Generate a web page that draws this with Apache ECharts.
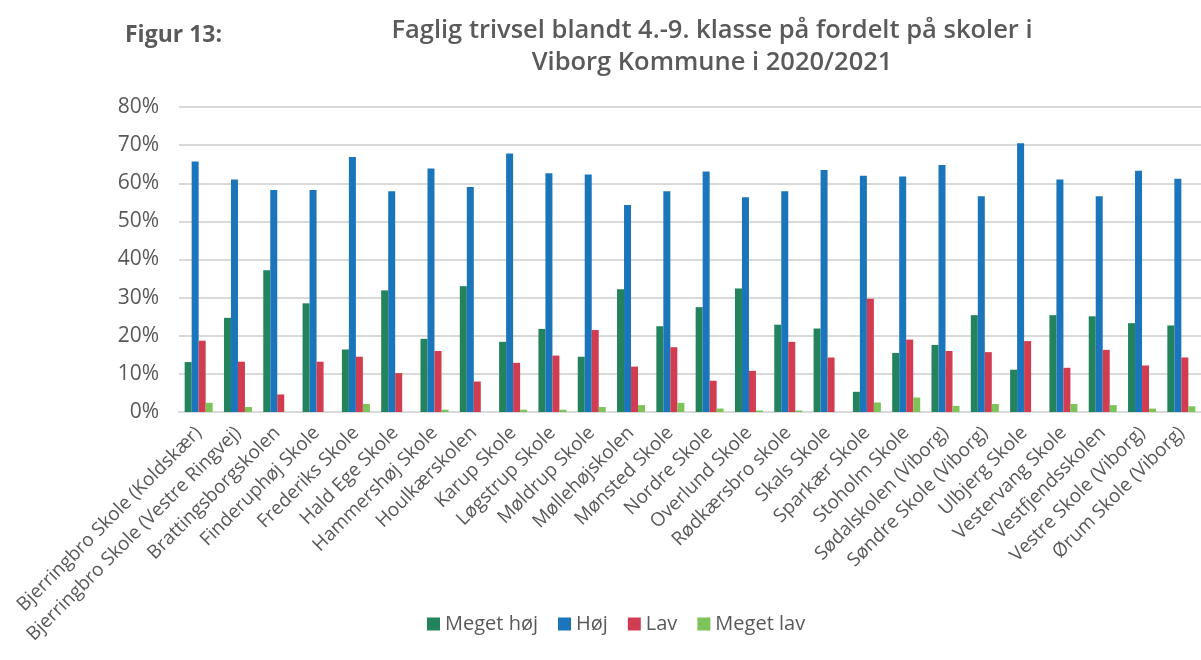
<!DOCTYPE html>
<html>
<head>
<meta charset="utf-8">
<script src="https://cdn.jsdelivr.net/npm/echarts@6/dist/echarts.min.js"></script>
<style>
  html, body { margin: 0; padding: 0; background: #fff; }
  #chart { width: 1201px; height: 660px; }
</style>
</head>
<body>
<div id="chart"></div>
<script>
// skoler
var schools = [
    'Bjerringbro Skole (Koldskær)', 'Bjerringbro Skole (Vestre Ringvej)', 'Brattingsborgskolen',
    'Finderuphøj Skole', 'Frederiks Skole', 'Hald Ege Skole', 'Hammershøj Skole', 'Houlkærskolen',
    'Karup Skole', 'Løgstrup Skole', 'Møldrup Skole', 'Møllehøjskolen', 'Mønsted Skole',
    'Nordre Skole', 'Overlund Skole', 'Rødkærsbro skole', 'Skals Skole', 'Sparkær Skole',
    'Stoholm Skole', 'Sødalskolen (Viborg)', 'Søndre Skole (Viborg)', 'Ulbjerg Skole',
    'Vestervang Skole', 'Vestfjendsskolen', 'Vestre Skole (Viborg)', 'Ørum Skole (Viborg)'
];
// procent pr. kategori
var megetHoj = [13.1, 24.7, 37.2, 28.5, 16.4, 31.9, 19.2, 33.0, 18.4, 21.8, 14.5, 32.2, 22.5,
    27.5, 32.4, 22.9, 21.9, 5.3, 15.5, 17.6, 25.4, 11.1, 25.4, 25.1, 23.3, 22.7];
var hoj = [65.7, 61.0, 58.2, 58.2, 66.9, 57.9, 63.9, 59.0, 67.8, 62.6, 62.3, 54.3, 57.9,
    63.1, 56.3, 57.9, 63.5, 62.0, 61.8, 64.8, 56.6, 70.5, 61.0, 56.6, 63.3, 61.2];
var lav = [18.7, 13.2, 4.6, 13.2, 14.5, 10.2, 16.0, 8.0, 12.9, 14.8, 21.5, 11.9, 17.0,
    8.2, 10.8, 18.4, 14.3, 29.7, 19.0, 16.0, 15.7, 18.6, 11.6, 16.3, 12.2, 14.3];
var megetLav = [2.4, 1.3, 0, 0, 2.1, 0, 0.6, 0, 0.6, 0.6, 1.3, 1.8, 2.4,
    0.9, 0.4, 0.4, 0, 2.5, 3.8, 1.6, 2.1, 0, 2.1, 1.8, 0.9, 1.5];
var seriesNames = ['Meget høj', 'Høj', 'Lav', 'Meget lav'];
var yTicks = [0, 10, 20, 30, 40, 50, 60, 70, 80];

var colors = ['#23835d', '#1a75bb', '#d23c50', '#7cc359'];
var font = "'Open Sans', sans-serif";

var myChart = echarts.init(document.getElementById('chart'));

function bar(name, data, color) {
    return {
        name: name,
        type: 'bar',
        data: data,
        barWidth: 7,
        barGap: '0%',
        itemStyle: { color: color },
        emphasis: { disabled: true }
    };
}

myChart.setOption({
    animation: false,
    backgroundColor: '#fff',
    textStyle: { fontFamily: font },
    title: [
        {
            text: 'Figur 13:',
            left: 120,
            top: 15,
            textStyle: { fontFamily: font, fontSize: 23, fontWeight: 'bold', color: '#5a5a5a', lineHeight: 30 }
        },
        {
            text: 'Faglig trivsel blandt 4.-9. klasse på fordelt på skoler i\nViborg Kommune i 2020/2021',
            left: 707,
            top: 10,
            textAlign: 'center',
            textStyle: { fontFamily: font, fontSize: 25.5, fontWeight: 600, color: '#5a5a5a', lineHeight: 32 }
        }
    ],
    legend: {
        data: seriesNames,
        left: 422,
        top: 609,
        icon: 'rect',
        itemWidth: 13,
        itemHeight: 13,
        itemGap: 20,
        textStyle: { fontFamily: font, fontSize: 20, color: '#595959' }
    },
    grid: {
        left: 179,
        right: -4,
        top: 107,
        height: 305,
        containLabel: false
    },
    xAxis: {
        type: 'category',
        data: schools,
        axisTick: { show: false },
        axisLine: { lineStyle: { color: '#d9d9d9', width: 2 } },
        axisLabel: {
            interval: 0,
            rotate: 45,
            margin: 18,
            fontFamily: font,
            fontSize: 19,
            color: '#595959'
        }
    },
    yAxis: {
        type: 'value',
        min: yTicks[0],
        max: yTicks[yTicks.length - 1],
        interval: 10,
        axisLine: { show: false },
        axisTick: { show: false },
        splitLine: { lineStyle: { color: '#d9d9d9', width: 2 } },
        axisLabel: {
            formatter: '{value}%',
            margin: 20,
            fontFamily: font,
            fontSize: 21,
            color: '#595959'
        }
    },
    series: [
        bar(seriesNames[0], megetHoj, colors[0]),
        bar(seriesNames[1], hoj, colors[1]),
        bar(seriesNames[2], lav, colors[2]),
        bar(seriesNames[3], megetLav, colors[3])
    ]
});
</script>
</body>
</html>
